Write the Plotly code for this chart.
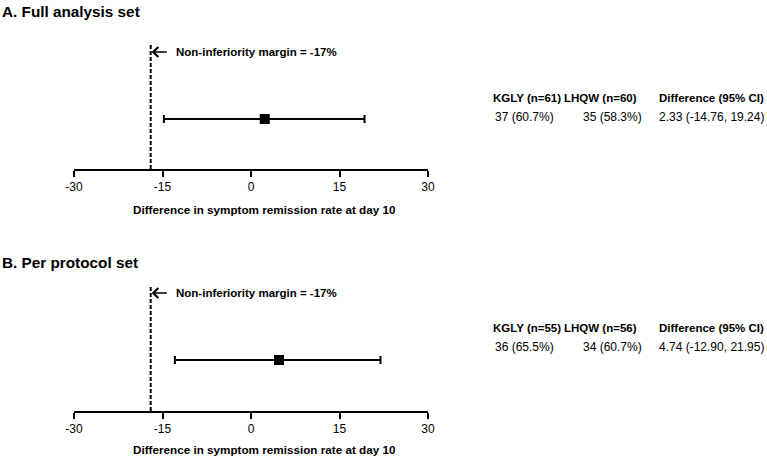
import plotly.graph_objects as go

# ---- data ----
panels = ["A. Full analysis set", "B. Per protocol set"]
estimates = [2.33, 4.74]
ci_lower = [-14.76, -12.90]
ci_upper = [19.24, 21.95]
margin_value = -17
tick_vals = [-30, -15, 0, 15, 30]
tick_text = ["-30", "-15", "0", "15", "30"]
header_kgly = ["KGLY (n=61)", "KGLY (n=55)"]
header_lhqw = ["LHQW (n=60)", "LHQW (n=56)"]
header_diff = ["Difference (95% CI)", "Difference (95% CI)"]
val_kgly = ["37 (60.7%)", "36 (65.5%)"]
val_lhqw = ["35 (58.3%)", "34 (60.7%)"]
val_diff = ["2.33 (-14.76, 19.24)", "4.74 (-12.90, 21.95)"]
x_title = "Difference in symptom remission rate at day 10"
margin_label = "Non-inferiority margin = -17%"

W, H = 767, 458
FONT = "Liberation Sans, Arial, Helvetica, sans-serif"

geo = [
    dict(top=43, axis=169, bar=119, arrow=52, title=11, head=98, val=117, xtitle=209),
    dict(top=285, axis=411, bar=360, arrow=293, title=262, head=328, val=347, xtitle=449),
]
x_left_px, x_right_px = 74, 428

fig = go.Figure()
annotations = []
shapes = []

def py(p):
    return 1 - p / H

def px(p):
    return p / W

for i in range(2):
    g = geo[i]
    xa = "x" if i == 0 else "x2"
    ya = "y" if i == 0 else "y2"
    ybar = (g["axis"] - g["bar"]) / (g["axis"] - g["top"])
    yarr = (g["axis"] - g["arrow"]) / (g["axis"] - g["top"])
    e = estimates[i]
    fig.add_trace(go.Scatter(
        x=[e], y=[ybar], xaxis=xa, yaxis=ya, mode="markers",
        marker=dict(symbol="square", size=10, color="black"),
        error_x=dict(type="data", symmetric=False,
                     array=[ci_upper[i] - e], arrayminus=[e - ci_lower[i]],
                     color="black", thickness=2, width=4),
        showlegend=False, hoverinfo="skip"))
    shapes.append(dict(type="line", xref=xa, yref=ya, x0=margin_value, x1=margin_value,
                       y0=0, y1=1, line=dict(color="black", width=2, dash="4px,2px")))
    annotations.append(dict(xref=xa, yref=ya, x=margin_value, y=yarr,
                            ax=margin_value + 3, ay=yarr, axref=xa, ayref=ya,
                            showarrow=True, arrowhead=4, arrowsize=1.3, arrowwidth=1.5,
                            arrowcolor="black", text="", standoff=1))
    annotations.append(dict(xref="paper", yref="paper", x=px(174), y=py(g["arrow"]),
                            xanchor="left", yanchor="middle", showarrow=False,
                            text="<b>" + margin_label + "</b>",
                            font=dict(family=FONT, size=11.5, color="black")))
    annotations.append(dict(xref="paper", yref="paper", x=px(0), y=py(g["title"]),
                            xanchor="left", yanchor="middle", showarrow=False,
                            text="<b>" + panels[i] + "</b>",
                            font=dict(family=FONT, size=15.3, color="black")))
    annotations.append(dict(xref="paper", yref="paper", x=px(264), y=py(g["xtitle"]),
                            xanchor="center", yanchor="middle", showarrow=False,
                            text="<b>" + x_title + "</b>",
                            font=dict(family=FONT, size=11.7, color="black")))
    for xx, t in [(491, header_kgly[i]), (562, header_lhqw[i]), (657, header_diff[i])]:
        annotations.append(dict(xref="paper", yref="paper", x=px(xx), y=py(g["head"]),
                                xanchor="left", yanchor="middle", showarrow=False,
                                text="<b>" + t + "</b>",
                                font=dict(family=FONT, size=11.5, color="black")))
    for xx, t in [(493, val_kgly[i]), (581, val_lhqw[i]), (657, val_diff[i])]:
        annotations.append(dict(xref="paper", yref="paper", x=px(xx), y=py(g["val"]),
                                xanchor="left", yanchor="middle", showarrow=False,
                                text=t,
                                font=dict(family=FONT, size=12, color="black")))

xaxis_common = dict(range=[-30, 30], tickvals=tick_vals, ticktext=tick_text,
                    showline=True, linecolor="black", automargin=False,
                    linewidth=2, ticks="outside", ticklen=6, tickwidth=2, tickcolor="black",
                    showgrid=False, zeroline=False,
                    tickfont=dict(family=FONT, size=12, color="black"))
yaxis_common = dict(range=[0, 1], visible=False, showgrid=False, zeroline=False,
                    automargin=False)

fig.update_layout(
    template="none",
    width=W, height=H, margin=dict(l=0, r=0, t=0, b=0, pad=0, autoexpand=False),
    paper_bgcolor="white", plot_bgcolor="white", showlegend=False,
    xaxis=dict(domain=[px(x_left_px), px(x_right_px)], anchor="y", **xaxis_common),
    yaxis=dict(domain=[py(geo[0]["axis"]), py(geo[0]["top"])], anchor="x", **yaxis_common),
    xaxis2=dict(domain=[px(x_left_px), px(x_right_px)], anchor="y2", **xaxis_common),
    yaxis2=dict(domain=[py(geo[1]["axis"]), py(geo[1]["top"])], anchor="x2", **yaxis_common),
    annotations=annotations, shapes=shapes,
)

fig.write_html("out.html")
